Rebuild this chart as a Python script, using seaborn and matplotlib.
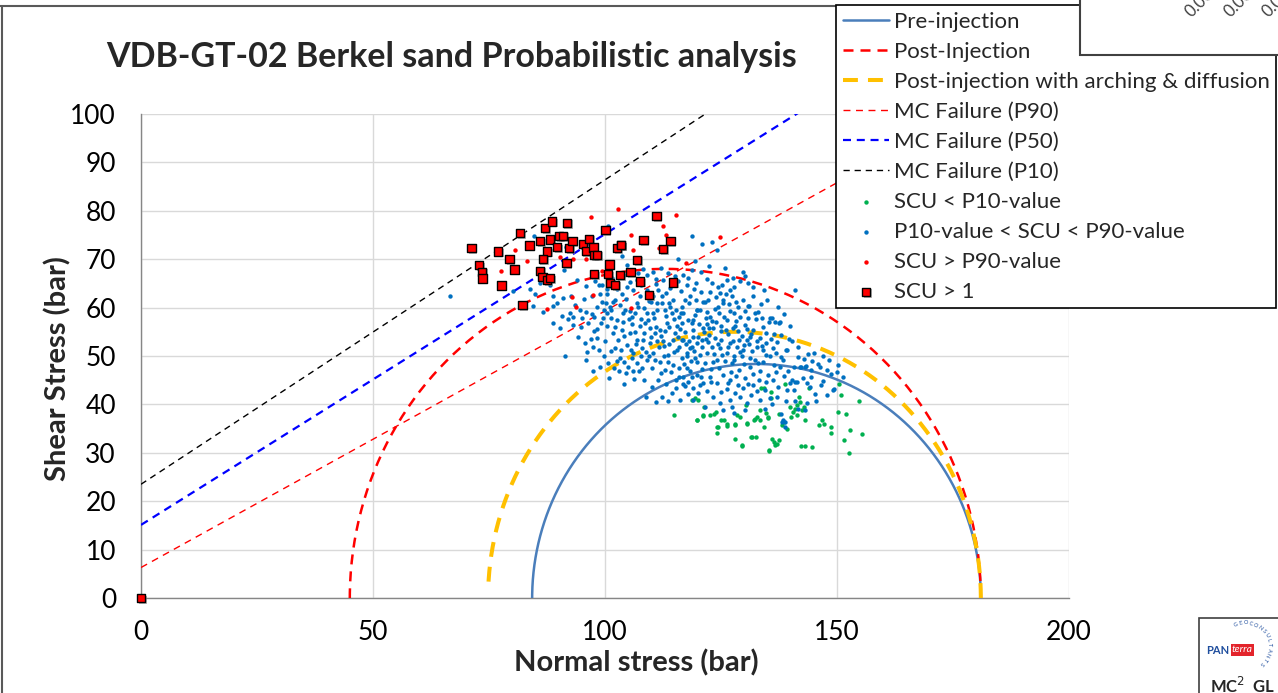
import numpy as np
import matplotlib
matplotlib.use("Agg")
import matplotlib.pyplot as plt
import matplotlib.patheffects as pe
from matplotlib.patches import Rectangle
from matplotlib.lines import Line2D
import seaborn as sns

sns.set_style("white")
plt.rcParams['font.family'] = ['Lato', 'DejaVu Sans']

# Mohr circles: (sigma3, sigma1, peak shear)
pre_circle = (84.3, 181.0, 48.35)
post_circle = (45.0, 181.0, 68.0)
arch_circle = (74.8, 181.0, 55.0)

# Mohr-Coulomb failure envelopes: cohesion (bar), slope
mc_p90 = (6.3, 0.530)
mc_p50 = (15.1, 0.601)
mc_p10 = (23.5, 0.629)

# SCU < P10-value
low_x = [114.8, 119.8, 121.1, 123.4, 123.9, 124.2, 124.4, 125.6, 126.2, 128.1, 128.5, 128.1, 129.6,
         130.3, 130.6, 131.6, 132.1, 132.7, 133.4, 133.7, 134.2, 134.8, 135.1, 135.3, 135.7, 136.0,
         136.4, 137.1, 137.5, 138.2, 138.6, 138.9, 139.3, 139.9, 140.0, 140.6, 140.9, 141.3, 141.4,
         141.8, 142.0, 142.3, 142.5, 142.9, 143.0, 143.2, 143.9, 144.7, 146.1, 146.8, 147.2, 148.8,
         148.8, 150.3, 150.4, 150.8, 151.5, 152.0, 152.6, 154.7, 155.4, 134.2, 135.7, 118.8, 121.4,
         119.4, 120.1, 119.8, 121.2, 122.6, 124.1, 125.1, 126.2, 128.0, 129.1, 129.5, 130.5, 131.4,
         132.5, 133.4, 132.4, 135.2, 135.4, 136.6, 137.4, 152.8]
low_y = [37.8, 36.7, 37.6, 38.0, 38.5, 34.1, 35.3, 36.7, 35.5, 35.9, 37.8, 32.9, 31.5,
         39.8, 36.0, 33.2, 36.7, 37.4, 36.7, 43.3, 35.3, 38.2, 37.4, 30.4, 42.6, 32.9,
         32.3, 31.9, 38.1, 35.7, 36.4, 44.3, 35.0, 39.5, 37.4, 38.4, 39.1, 39.8, 37.8,
         41.6, 40.5, 31.5, 38.8, 39.5, 31.5, 36.7, 43.3, 31.2, 35.7, 36.7, 36.0, 35.3,
         34.0, 38.4, 44.3, 41.9, 32.6, 38.0, 30.0, 40.7, 33.9, 43.3, 41.4, 40.9, 39.5,
         41.3, 40.9, 36.8, 37.8, 37.8, 35.4, 36.8, 35.9, 35.7, 37.5, 31.6, 36.1, 33.3,
         33.3, 38.8, 36.9, 37.1, 30.6, 31.6, 32.6, 34.7]

# P10-value < SCU < P90-value
mid_x = [84.4, 86.7, 88.7, 88.7, 89.7, 90.4, 92.1, 93.2, 93.2, 94.8, 95.6, 95.9, 91.4, 96.4, 96.9,
         97.1, 97.5, 98.2, 98.3, 98.8, 99.1, 100.4, 100.9, 101.4, 101.8, 101.9, 102.2, 102.5, 102.9,
         103.2, 103.6, 103.9, 104.5, 104.7, 105.0, 105.4, 105.8, 106.1, 106.5, 106.9, 107.0, 107.4,
         107.5, 107.9, 108.3, 108.4, 108.8, 109.0, 109.3, 109.7, 110.1, 110.4, 110.8, 111.1, 111.5,
         111.9, 112.2, 112.4, 112.9, 113.3, 113.6, 114.0, 114.4, 114.7, 115.1, 115.5, 116.0, 116.3,
         116.5, 116.9, 117.2, 117.6, 117.9, 118.3, 118.7, 119.0, 119.4, 119.8, 120.1,
         116.9, 118.0, 119.0, 120.5, 121.5, 122.6, 123.3, 124.4, 125.5, 126.2, 126.9, 128.0, 129.1,
         130.2, 131.1, 131.2, 132.0, 132.7, 133.4, 134.1, 135.4, 135.9, 137.6, 134.8, 135.6, 136.4,
         137.7, 139.0, 139.9, 140.9, 142.0, 143.1, 143.5, 144.5, 146.3, 147.8, 149.2, 116.5, 117.6,
         118.7, 119.8, 120.8, 121.9, 123.0, 124.1, 125.1, 126.2, 127.3, 128.4, 129.5, 130.5, 131.2,
         132.3, 133.4, 134.1, 135.2, 136.3, 134.5, 135.6, 137.0, 133.4, 132.0, 130.2, 128.7, 126.9,
         125.5, 124.1, 122.6, 121.2, 119.8, 118.3, 116.9, 119.0, 121.5, 123.3, 125.5, 126.9, 129.1,
         130.5, 138.4, 138.8, 127.3,
         118.7, 120.8, 123.0, 124.1, 125.9, 129.8, 130.9, 126.2, 124.4, 121.9, 119.7, 118.7, 116.9,
         115.8, 114.0, 112.6, 110.4, 109.0, 111.5, 110.4, 109.0, 107.5, 106.1, 104.7, 103.6, 102.2,
         100.4, 99.3, 101.1, 103.2, 105.4, 107.2, 109.0, 111.1, 112.9, 114.7, 116.5, 118.3, 119.8,
         121.2, 122.6, 123.7, 125.5, 127.3, 128.7, 129.8, 130.9, 127.7, 129.1, 103.6, 104.7, 99.3,
         115.8, 135.6, 136.6,
         66.6, 80.2, 83.8, 84.9, 86.0, 88.7, 91.0, 92.6, 91.2, 93.9, 96.0, 97.1, 98.9, 100.4, 101.8,
         100.7, 91.7, 84.6, 88.1, 97.8, 98.8, 94.6, 96.0, 97.6, 100.4, 101.4, 95.0, 92.5, 90.7,
         140.9, 137.7, 139.7, 139.2, 138.4, 140.7, 142.2, 143.3, 144.3, 145.8, 148.6, 151.4, 149.4,
         146.5, 143.8, 142.7, 141.3, 140.2, 140.7, 139.2, 139.0, 141.0, 143.1, 141.7, 138.1, 138.8,
         143.5,
         110.9, 112.0, 113.8, 114.9, 116.1, 117.4, 118.9, 120.2, 121.4, 122.1, 123.8, 124.9, 126.5,
         127.6, 128.6, 129.9, 131.6, 130.8, 127.9, 125.7, 123.1, 121.7, 119.5, 115.6, 113.2, 111.6,
         109.8, 108.1, 106.5, 105.1, 104.2, 102.1, 100.1, 99.7, 101.2, 103.4, 105.8, 108.9, 110.7,
         112.8, 114.3, 115.9, 117.0, 118.5, 120.4, 121.5, 122.8, 124.6, 125.8, 127.1, 128.9, 130.0,
         131.9, 133.1, 120.9, 117.8, 115.3, 113.1, 110.2, 106.3, 104.0, 103.0, 109.4, 112.3, 116.3,
         119.1, 106.9, 104.6, 123.9, 126.9,
         101.5, 104.0, 106.8, 108.2, 111.0, 113.5, 117.6, 120.6, 122.3, 124.8, 126.0, 128.2, 131.8,
         133.0, 134.0, 132.6, 133.6, 136.4, 137.0, 138.0, 136.2, 134.8, 133.0, 131.3, 129.2, 127.8,
         126.5, 124.7, 123.5, 122.4, 121.1, 119.9, 117.3, 116.0, 114.6, 113.0, 111.2, 109.4, 108.0,
         106.0, 104.2, 102.6, 100.6, 99.0, 97.4, 98.2, 99.6, 100.2, 104.4, 108.4, 110.0, 112.2,
         114.4, 116.0, 118.8, 121.9, 124.0, 125.1, 127.5, 129.6, 131.0, 126.4, 128.1, 129.8, 131.4,
         122.0, 120.4, 117.9, 116.2, 113.6, 111.0, 124.8, 127.9, 130.1, 134.4, 136.0, 138.0, 137.3,
         139.5, 141.6, 145.0, 147.0, 150.2, 145.2, 144.2,
         105.5, 106.7, 107.8, 108.6, 109.9, 110.6, 111.8, 112.7, 113.9, 114.8, 115.7, 116.7, 117.7,
         118.1, 119.2, 120.0, 120.8, 121.7, 122.5, 123.2, 124.3, 125.3, 126.1, 127.0, 127.9, 128.9,
         129.7, 130.6, 131.4, 132.8, 133.8, 134.6, 135.8, 136.8, 137.9, 112.0, 113.6, 115.3, 116.8,
         118.9, 120.6, 122.9, 124.9, 126.6, 128.3, 130.9, 132.7, 134.8, 136.9, 138.6, 103.8, 105.9,
         107.8, 110.3, 113.8, 115.2, 117.2, 119.6, 121.9, 124.5, 126.7, 128.3, 130.1, 132.4, 133.8,
         102.5, 105.3, 107.8, 110.9, 113.2, 115.0, 117.9, 120.6, 123.0, 125.3, 127.6, 122.4, 119.5,
         112.0, 107.1, 99.8, 97.6, 96.2, 94.2, 93.6, 95.4, 140.4, 141.5, 142.9, 144.6, 146.9, 148.2,
         150.0, 139.8, 138.5, 137.2, 135.0, 134.2, 131.8, 130.2, 145.5, 147.8]
mid_y = [60.3, 59.0, 60.3, 56.9, 61.0, 55.7, 57.6, 56.4, 58.1, 55.9, 52.6, 49.2, 50.0, 56.9, 53.6,
         58.7, 51.9, 60.2, 55.5, 51.2, 56.8, 56.2, 45.4, 59.5, 54.7, 47.5, 51.6, 57.4, 53.3,
         49.5, 55.4, 58.8, 46.4, 52.3, 47.8, 54.7, 56.7, 50.6, 58.8, 53.3, 48.5, 46.8,
         56.1, 51.6, 54.7, 45.0, 41.6, 49.2, 57.4, 52.6, 47.5, 50.6, 54.7, 59.5, 45.0,
         48.8, 41.6, 53.0, 47.1, 56.8, 50.2, 60.2, 42.3, 48.1, 54.7, 51.2, 45.7, 58.8,
         49.5, 53.3, 43.7, 47.5, 57.4, 51.6, 45.7, 55.4, 49.5, 59.5, 42.3,
         58.8, 60.9, 57.4, 59.5, 61.2, 58.1, 55.7, 60.2, 60.9, 57.4, 59.2, 56.1, 58.1,
         56.4, 60.3, 54.0, 55.4, 51.9, 53.7, 51.2, 57.1, 57.8, 56.8, 52.6, 49.9, 48.1,
         47.8, 51.2, 44.4, 44.7, 47.8, 47.8, 44.4, 45.7, 47.8, 47.1, 43.0, 53.3, 50.6,
         51.9, 48.8, 53.3, 50.6, 51.9, 49.2, 53.3, 50.6, 48.5, 51.9, 49.9, 53.3, 47.8,
         49.2, 46.8, 48.8, 46.1, 45.0, 43.0, 41.3, 41.6, 40.9, 44.0, 45.4, 44.0, 45.0,
         46.1, 44.4, 45.7, 44.4, 46.1, 46.8, 45.7, 40.9, 39.5, 41.6, 38.8, 40.9, 41.6,
         40.2, 36.8, 35.4, 39.5,
         74.8, 73.1, 73.6, 71.9, 68.1, 67.4, 65.0, 65.7, 64.3, 66.0, 65.0, 67.8, 66.7,
         65.4, 64.0, 65.7, 67.4, 66.7, 63.6, 62.3, 63.6, 62.3, 63.6, 64.3, 62.9, 61.6,
         62.9, 61.2, 60.2, 60.5, 59.2, 60.2, 58.8, 60.9, 59.5, 61.6, 60.2, 62.3, 59.5,
         61.2, 63.3, 59.8, 61.6, 62.3, 60.2, 61.6, 60.3, 64.3, 65.4, 70.7, 68.9, 64.7,
         70.0, 57.8, 57.1,
         62.5, 63.5, 63.8, 62.9, 65.1, 62.3, 61.9, 62.3, 67.8, 65.7, 64.5, 62.3, 62.9, 63.8, 61.2,
         76.9, 72.6, 74.7, 64.7, 65.4, 64.7, 59.5, 59.1, 58.1, 58.8, 57.8, 57.8, 58.8, 58.3,
         63.6, 57.1, 53.6, 51.2, 49.2, 47.7, 47.7, 47.9, 47.1, 48.3, 46.3, 45.7, 43.1,
         44.0, 50.5, 45.4, 44.7, 45.0, 43.0, 43.0, 40.6, 40.6, 38.8, 39.0, 36.4, 36.4,
         40.2,
         56.0, 54.2, 52.5, 57.7, 55.6, 52.4, 54.0, 56.6, 54.9, 52.9, 53.8, 56.3, 54.6,
         53.0, 55.2, 52.2, 51.0, 57.9, 58.9, 58.0, 57.2, 57.9, 58.4, 56.2, 58.3, 51.9,
         55.8, 53.4, 55.0, 57.6, 54.1, 55.9, 53.2, 50.1, 51.0, 51.3, 49.6, 50.8, 49.1,
         49.9, 46.6, 47.6, 48.3, 49.0, 50.2, 48.6, 47.3, 47.6, 48.9, 46.6, 47.1, 48.4,
         46.3, 45.0, 47.3, 44.6, 43.4, 44.2, 43.5, 45.2, 44.2, 47.0, 61.4, 62.4, 63.4,
         63.9, 60.9, 61.8, 62.1, 63.6,
         66.2, 66.8, 65.8, 68.0, 66.0, 67.2, 64.6, 63.2, 61.6, 63.0, 62.8, 61.2, 62.4,
         59.0, 56.0, 57.6, 60.8, 54.6, 52.8, 54.4, 51.6, 50.2, 48.6, 49.6, 50.8, 50.0,
         51.8, 51.6, 50.4, 54.4, 55.8, 52.6, 55.0, 51.8, 53.4, 55.2, 53.2, 50.0, 47.6,
         47.0, 48.8, 49.0, 48.6, 47.8, 46.9, 53.8, 57.8, 60.9, 59.6, 59.9, 61.1, 61.0,
         58.9, 58.0, 56.9, 56.6, 57.0, 55.2, 55.8, 54.2, 52.5, 43.2, 42.3, 43.4, 42.0,
         42.8, 44.0, 42.1, 41.0, 40.6, 40.4, 40.3, 38.3, 38.8, 39.0, 40.0, 38.0, 43.6,
         47.0, 49.8, 50.6, 44.9, 48.2, 42.2, 43.5,
         51.2, 52.4, 49.9, 56.8, 53.9, 57.8, 55.3, 52.0, 55.9, 50.9, 53.9, 56.9, 50.1,
         53.1, 51.0, 54.0, 51.9, 53.6, 55.7, 48.8, 52.5, 50.2, 55.4, 52.7, 49.2, 53.4,
         51.3, 55.6, 54.5, 53.1, 52.1, 54.8, 53.5, 50.6, 49.8, 46.5, 48.7, 45.1, 44.2,
         43.4, 45.6, 44.7, 42.6, 44.5, 45.8, 44.2, 42.8, 44.6, 46.7, 45.9, 57.1, 58.1,
         57.6, 58.8, 61.0, 59.6, 61.5, 61.6, 59.1, 58.9, 60.7, 57.2, 59.4, 58.9, 57.8,
         63.9, 65.3, 64.6, 64.9, 63.0, 66.5, 66.2, 67.3, 65.0, 64.6, 66.1, 68.5, 69.6,
         68.2, 67.2, 59.6, 55.1, 50.8, 53.9, 60.6, 61.8, 53.1, 51.8, 49.4, 48.9, 50.0, 49.1,
         46.7, 56.3, 58.6, 60.1, 61.5, 63.6, 64.3, 66.6, 40.8, 41.9]

# SCU > P90-value
high_x = [96.9, 80.5, 83.1, 77.5, 93.2, 90.2, 95.8, 87.6, 93.8, 102.9, 115.4, 112.5, 105.5,
          113.1, 106.0, 124.8, 117.5, 105.7, 99.4, 88.0, 101.0, 109.0, 111.6, 97.5, 92.9]
high_y = [78.8, 71.8, 69.6, 67.6, 70.0, 70.4, 70.0, 59.8, 60.2, 80.3, 79.1, 76.8, 75.1,
          74.9, 72.0, 74.6, 69.2, 60.0, 67.6, 66.0, 68.0, 62.5, 72.3, 62.6, 62.2]

# SCU > 1
fail_x = [0.0, 71.2, 72.9, 73.5, 73.6, 77.7, 76.9, 79.4, 80.5, 81.7, 83.7, 82.2, 86.0, 87.1, 88.6,
          88.2, 87.5, 86.6, 86.0, 86.5, 87.5, 88.1, 90.1, 91.0, 89.7, 91.8, 91.7, 92.3, 93.0,
          95.3, 96.6, 95.9, 97.5, 97.7, 98.3, 100.1, 101.0, 97.7, 100.7, 101.1, 102.2, 102.6,
          103.5, 111.1, 108.3, 114.1, 112.5, 103.4, 106.9, 105.5, 103.3, 107.6, 114.7, 109.5]
fail_y = [0.0, 72.3, 68.8, 67.4, 66.0, 64.6, 71.6, 70.0, 67.9, 75.4, 72.8, 60.5, 73.7, 76.4, 77.8,
          74.1, 71.6, 70.0, 67.6, 66.3, 65.7, 66.1, 74.8, 74.8, 72.5, 77.5, 69.2, 72.3, 73.8,
          73.1, 74.2, 71.7, 72.4, 70.9, 70.9, 76.0, 68.9, 66.9, 66.9, 65.1, 64.7, 72.3,
          72.9, 78.9, 73.9, 73.7, 72.1, 72.9, 69.9, 67.3, 66.7, 65.4, 65.2, 62.6]

x_ticks = [0, 50, 100, 150, 200]
y_ticks = [0, 10, 20, 30, 40, 50, 60, 70, 80, 90, 100]

W, H = 1278, 693
fig = plt.figure(figsize=(W / 100, H / 100), dpi=100)
ax = fig.add_axes([141 / W, 1 - 598 / H, (1069 - 141) / W, (598 - 114) / H])


def arc(circ, start=0.0):
    s3, s1, peak = circ
    c, r = (s1 + s3) / 2, (s1 - s3) / 2
    t = np.linspace(0, np.pi - start, 200)
    return c + r * np.cos(t), peak * np.sin(t)


px, py = arc(pre_circle)
sns.lineplot(x=px, y=py, sort=False, estimator=None, ax=ax, color='#4A7EBB', lw=1.8,
             label='Pre-injection', legend=False, zorder=3)
px, py = arc(post_circle)
sns.lineplot(x=px, y=py, sort=False, estimator=None, ax=ax, color='#FF0000', lw=1.8,
             linestyle=(0, (4, 2.8)), label='Post-Injection', legend=False, zorder=3)
px, py = arc(arch_circle, start=0.055)
sns.lineplot(x=px, y=py, sort=False, estimator=None, ax=ax, color='#FFC000', lw=2.9,
             linestyle=(0, (3.7, 2.5)), label='Post-injection with arching & diffusion',
             legend=False, zorder=3)

xs = np.array([0.0, 200.0])
for (c, m), col, lw, ls, lab in [(mc_p90, '#FF0000', 1.0, (0, (5, 4)), 'MC Failure (P90)'),
                                  (mc_p50, '#0000FF', 1.6, (0, (3.6, 2.6)), 'MC Failure (P50)'),
                                  (mc_p10, '#000000', 1.0, (0, (4.5, 3.5)), 'MC Failure (P10)')]:
    sns.lineplot(x=xs, y=c + m * xs, sort=False, estimator=None, ax=ax, color=col, lw=lw,
                 linestyle=ls, label=lab, legend=False, zorder=3)

sns.scatterplot(x=low_x, y=low_y, ax=ax, color='#00B050', s=10, linewidth=0,
                label='SCU < P10-value', legend=False, zorder=4)
sns.scatterplot(x=mid_x, y=mid_y, ax=ax, color='#0070C0', s=10, linewidth=0,
                label='P10-value < SCU < P90-value', legend=False, zorder=4)
sns.scatterplot(x=high_x, y=high_y, ax=ax, color='#FF0000', s=10, linewidth=0,
                label='SCU > P90-value', legend=False, zorder=4)
sns.scatterplot(x=fail_x, y=fail_y, ax=ax, color='#FF0000', marker='s', s=36,
                edgecolor='black', linewidth=1.0, label='SCU > 1', legend=False, zorder=5,
                clip_on=False,
                path_effects=[pe.SimplePatchShadow(offset=(1.2, -1.2), shadow_rgbFace='#7f7f7f',
                                                   alpha=0.6), pe.Normal()])

ax.set_xlim(0, 200)
ax.set_ylim(0, 100)
ax.set_xticks(x_ticks)
ax.set_yticks(y_ticks)
ax.grid(True, color='#D9D9D9', lw=1.0)
ax.set_axisbelow(True)
for side in ['top', 'right']:
    ax.spines[side].set_visible(False)
for side in ['left', 'bottom']:
    ax.spines[side].set_color('#868686')
    ax.spines[side].set_linewidth(1.0)
    ax.spines[side].set_zorder(2)
ax.tick_params(axis='both', which='major', direction='out', length=5, width=1,
               color='#868686', labelsize=19, labelcolor='black')
ax.tick_params(axis='y', pad=13)
ax.tick_params(axis='x', pad=11)
ax.set_xlabel('')
ax.set_ylabel('')

fig.text(452 / W, 1 - 57 / H, 'VDB-GT-02 Berkel sand Probabilistic analysis', fontsize=24.5,
         fontweight='bold', ha='center', va='center')
fig.text(636 / W, 1 - 663 / H, 'Normal stress (bar)', fontsize=21, fontweight='bold',
         ha='center', va='center')
fig.text(58 / W, 1 - 369 / H, 'Shear Stress (bar)', fontsize=21, fontweight='bold',
         ha='center', va='center', rotation=90)

# chart border
fig.add_artist(Line2D([1.5 / W, 1.5 / W], [0, 1 - 6 / H], color='#595959', lw=1.5))
fig.add_artist(Line2D([0, 1], [1 - 6 / H, 1 - 6 / H], color='#595959', lw=1.5))

handles, labels = ax.get_legend_handles_labels()
leg = fig.legend(handles, labels, loc='upper left', bbox_to_anchor=(836 / W, 1 - 5 / H),
                 borderaxespad=0, fontsize=16, frameon=True, fancybox=False,
                 edgecolor='black', framealpha=1, handlelength=2.1, handletextpad=0.2,
                 labelspacing=0.45, borderpad=0.3, markerscale=1.0)
leg.get_frame().set_linewidth(1.2)

# overlapping chart box in the top right corner
fig.add_artist(Rectangle((1080 / W, 1 - 55 / H), 0.3, 0.2, transform=fig.transFigure,
                         facecolor='white', edgecolor='#404040', lw=1.5, zorder=10))
for xp in [1188, 1227, 1265]:
    fig.text(xp / W, 1 - 14 / H, '0.00', fontsize=12, rotation=45, rotation_mode='anchor',
             color='#404040', ha='left', va='center', zorder=11)

# logo
fig.add_artist(Rectangle((1199 / W, -0.05), 0.1, (693 - 618) / H + 0.05,
                         transform=fig.transFigure, facecolor='white', edgecolor='#404040',
                         lw=1.2, zorder=10))
fig.text(1206 / W, 1 - 650 / H, 'PAN', fontsize=8, fontweight='bold', color='#1F4E9E',
         ha='left', va='center', zorder=11)
fig.text(1232 / W, 1 - 650 / H, 'terra', fontsize=7.5, fontstyle='italic', color='white',
         ha='left', va='center', zorder=11,
         bbox=dict(boxstyle='square,pad=0.1', facecolor='#E3242B', edgecolor='none'))
word = 'GEOCONSULTANTS'
for i, ch in enumerate(word):
    ang = np.deg2rad(115 - i * 12.5)
    cx, cy = 1246 + 23 * np.cos(ang), 646 - 23 * np.sin(ang)
    fig.text(cx / W, 1 - cy / H, ch, fontsize=4, color='#1F4E9E', ha='center', va='center',
             rotation=np.rad2deg(ang) - 90, zorder=11)
fig.text(1210 / W, 1 - 686 / H, 'MC$^2$  GL', fontsize=12, fontweight='bold', ha='left',
         va='center', zorder=11)

fig.savefig('out.png', dpi=100)
